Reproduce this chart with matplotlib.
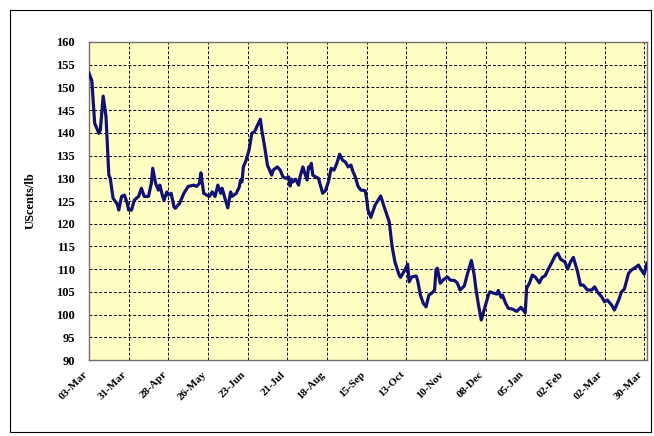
import matplotlib
matplotlib.use("Agg")
import matplotlib.pyplot as plt
from matplotlib.patches import Rectangle

# Days since 03-Mar and price (US cents/lb)
days = [0, 2, 4, 7, 8, 10, 12, 14, 15, 17, 20, 21, 23, 25, 27, 28, 30, 32, 35, 37,
        39, 42, 44, 45, 47, 49, 50, 52, 53, 55, 56, 58, 60, 61, 64, 67, 70, 74, 76, 78,
        79, 81, 83, 85, 87, 89, 91, 93, 94, 96, 98, 100, 101, 104, 106, 107, 108, 109, 111, 113,
        115, 117, 119, 121, 122, 124, 126, 129, 130, 133, 135, 137, 139, 141, 142, 143, 144, 146, 148, 149,
        151, 152, 154, 155, 156, 157, 158, 160, 162, 163, 165, 167, 169, 171, 173, 175, 177, 179, 181, 183,
        185, 186, 188, 190, 192, 195, 196, 197, 199, 202, 206, 208, 212, 214, 216, 219, 220, 223, 225, 226,
        228, 231, 232, 234, 236, 238, 240, 242, 244, 245, 246, 248, 250, 253, 255, 258, 260, 262, 265, 267,
        270, 272, 273, 275, 277, 279, 282, 283, 286, 288, 289, 291, 292, 294, 296, 299, 302, 305, 308, 309,
        311, 313, 315, 318, 320, 322, 324, 327, 329, 331, 333, 336, 338, 340, 342, 345, 347, 349, 352, 355,
        357, 359, 362, 364, 366, 369, 371, 374, 376, 378, 381, 383, 386, 388, 390, 392, 394]
prices = [153.1, 151.5, 142.1, 139.9, 140.6, 148.1, 143.6, 130.7, 130.0, 125.6, 124.3, 123.0, 126.0, 126.3, 124.5, 123.0, 123.0, 125.2, 126.0, 127.8,
          126.0, 126.0, 128.9, 132.2, 128.9, 127.4, 128.5, 126.0, 125.2, 127.0, 126.3, 126.7, 123.7, 123.4, 124.5, 126.7, 128.2, 128.5, 128.2, 128.9,
          131.2, 126.7, 126.3, 126.0, 127.0, 126.0, 128.5, 126.7, 127.8, 125.6, 123.5, 127.0, 126.0, 126.7, 128.0, 129.6, 129.2, 132.5, 134.0, 136.2,
          139.9, 140.3, 141.7, 143.0, 140.6, 137.0, 132.9, 130.7, 131.8, 132.5, 131.8, 130.3, 130.0, 130.3, 128.3, 129.8, 129.2, 129.8, 128.5, 130.3,
          132.5, 131.5, 129.6, 132.5, 132.2, 133.3, 130.7, 130.3, 130.0, 128.9, 126.7, 127.3, 129.2, 132.2, 131.8, 133.3, 135.3, 134.0, 133.6, 132.5,
          132.9, 131.8, 130.3, 128.2, 127.4, 127.3, 125.6, 123.0, 121.4, 124.1, 126.1, 124.1, 120.4, 115.0, 111.6, 108.7, 108.2, 109.8, 111.1, 107.2,
          108.3, 108.5, 107.6, 104.3, 102.5, 101.7, 104.3, 104.7, 105.4, 109.8, 110.2, 106.9, 107.6, 108.3, 107.6, 107.5, 107.0, 105.4, 106.3, 108.7,
          111.9, 108.7, 106.1, 102.1, 98.8, 101.0, 104.3, 105.0, 104.7, 104.5, 105.3, 103.8, 104.3, 102.6, 101.4, 101.2, 100.7, 101.6, 100.4, 105.8,
          106.9, 108.7, 108.3, 107.0, 108.2, 108.5, 109.8, 111.6, 112.9, 113.5, 112.2, 111.6, 110.0, 111.6, 112.6, 109.4, 106.5, 106.5, 105.4, 105.4,
          106.1, 105.0, 103.9, 102.8, 103.2, 102.1, 101.0, 103.2, 105.0, 105.6, 109.1, 109.8, 110.4, 110.9, 109.8, 108.9, 111.3]

tick_days = [0, 28, 56, 84, 112, 140, 168, 196, 224, 252, 280, 308, 336, 364, 392]
tick_labels = ["03-Mar", "31-Mar", "28-Apr", "26-May", "23-Jun", "21-Jul", "18-Aug",
               "15-Sep", "13-Oct", "10-Nov", "08-Dec", "05-Jan", "02-Feb", "02-Mar", "30-Mar"]
y_ticks = list(range(90, 161, 5))

W, H = 654, 436
fig = plt.figure(figsize=(W / 100, H / 100), dpi=100)
fig.patch.set_facecolor("white")
fig.patches.append(Rectangle((10 / W, 4 / H), 641 / W, 422 / H, transform=fig.transFigure,
                             fill=False, edgecolor="black", linewidth=0.8))

ax = fig.add_axes([89 / W, 1 - 360 / H, (647 - 89) / W, (360 - 42) / H])
ax.set_facecolor("#FFFFC4")
ax.plot(days, prices, color="#10107A", linewidth=2.3, solid_joinstyle="round", zorder=3)

ax.set_xlim(0, 394)
ax.set_ylim(90, 160)
ax.set_xticks(tick_days)
ax.set_yticks(y_ticks)
ax.grid(True, color="black", linestyle=(0, (3, 2)), linewidth=0.7)
ax.set_axisbelow(True)

serif = ["Liberation Serif", "DejaVu Serif"]
ax.set_yticklabels([str(v) for v in y_ticks], family=serif, fontweight="bold", fontsize=9)
ax.set_xticklabels(tick_labels, family=serif, fontweight="bold", fontsize=8,
                   rotation=45, ha="right", va="top")
ax.tick_params(axis="y", length=0, pad=10)
ax.tick_params(axis="x", length=0, pad=7)

for s in ax.spines.values():
    s.set_color("#707070")
    s.set_linewidth(1.0)

ax.set_ylabel("UScents/lb", family=serif, fontweight="bold", fontsize=9, labelpad=14)

fig.savefig("out.png", dpi=100)
